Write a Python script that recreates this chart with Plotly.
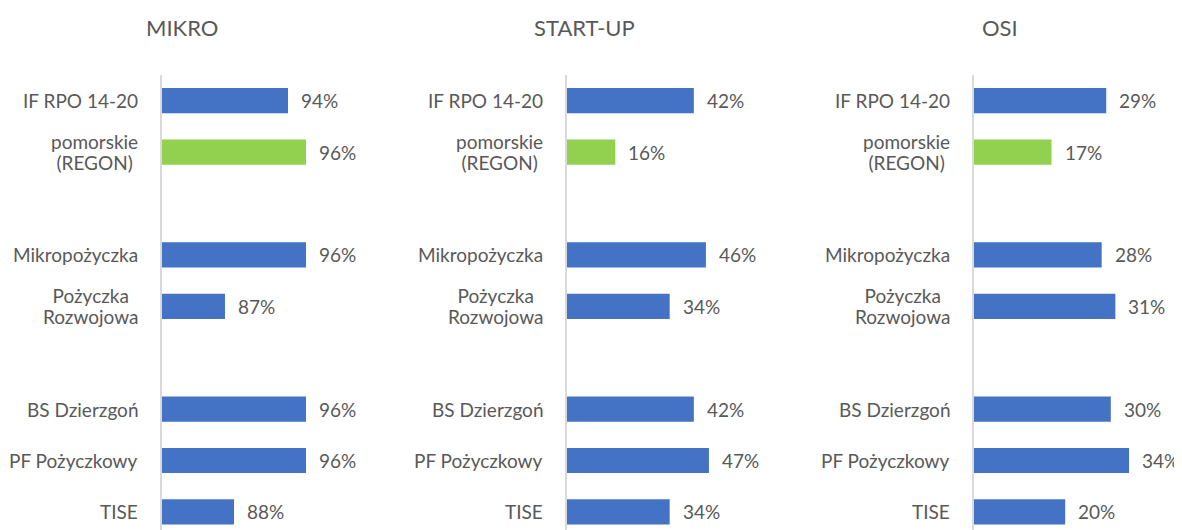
import plotly.graph_objects as go

# ---- data ----
panels = ["MIKRO", "START-UP", "OSI"]
categories = ["IF RPO 14-20", "pomorskie<br>(REGON)", "Mikropożyczka",
              "Pożyczka<br>Rozwojowa", "BS Dzierzgoń", "PF Pożyczkowy", "TISE"]
groups = [0, 0, 1, 1, 2, 2, 2]
mikro = [94, 96, 96, 87, 96, 96, 88]
startup = [42, 16, 46, 34, 42, 47, 34]
osi = [29, 17, 28, 31, 30, 34, 20]
values = [mikro, startup, osi]
axis_ranges = [[80, 100], [0, 50], [0, 35]]

# ---- style ----
BLUE = "#4472C4"
GREEN = "#92D050"
TEXT = "#595959"
FONT = "Lato"
W, H = 1182, 522
OFF = 8  # page body margin
colors = [GREEN if "REGON" in c else BLUE for c in categories]
rows = [i + g for i, g in enumerate(groups)]
px_dom = [[162, 342], [567, 718], [974, 1133.6]]
domains = [[(a - OFF) / W, (b - OFF) / W] for a, b in px_dom]
title_x = [(182 - OFF) / W, (584 - OFF) / W, (1000 - OFF) / W]
TOP = 75 - OFF
PLOT_H = H - TOP
ROW_PX = 51.4
y_bottom = -0.5 + PLOT_H / ROW_PX


def styled(label, size):
    return "<br>".join(f"<span style='font-size:{size}px'>{part}</span>"
                       for part in label.split("<br>"))


fig = go.Figure()
annotations = []
for p, name in enumerate(panels):
    sfx = "" if p == 0 else str(p + 1)
    lo = axis_ranges[p][0]
    fig.add_trace(go.Bar(
        x=[v - lo for v in values[p]], y=rows, orientation="h", base=lo,
        marker=dict(color=colors, line=dict(width=0)),
        width=0.49,
        xaxis="x" + sfx, yaxis="y" + sfx, showlegend=False,
        hoverinfo="skip",
    ))
    fig.layout["xaxis" + sfx] = dict(
        domain=domains[p], range=axis_ranges[p], visible=False,
        anchor="y" + sfx, fixedrange=True)
    fig.layout["yaxis" + sfx] = dict(
        domain=[0, 1], range=[y_bottom, -0.5], anchor="x" + sfx,
        showticklabels=False, showgrid=False, zeroline=False,
        showline=True, linecolor="#D9D9D9", linewidth=1.5, ticks="")
    for r, c, v in zip(rows, categories, values[p]):
        annotations.append(dict(
            xref="x" + sfx + " domain", x=0, yref="y" + sfx, y=r,
            text=styled(c, 19), showarrow=False, xanchor="right",
            yanchor="middle", align="center", xshift=-22,
            font=dict(family=FONT, size=16, color=TEXT)))
        annotations.append(dict(
            xref="x" + sfx, x=v, yref="y" + sfx, y=r,
            text=f"{v}%", showarrow=False, xanchor="left", yanchor="middle",
            xshift=11, font=dict(family=FONT, size=19, color=TEXT)))
    annotations.append(dict(
        xref="paper", x=title_x[p], yref="paper",
        y=1 + (TOP - (28 - OFF)) / PLOT_H,
        text=name, showarrow=False, xanchor="center", yanchor="middle",
        font=dict(family=FONT, size=22, color=TEXT)))

fig.update_layout(
    width=W, height=H,
    margin=dict(l=0, r=0, t=TOP, b=0),
    paper_bgcolor="white", plot_bgcolor="white",
    annotations=annotations,
    font=dict(family=FONT, color=TEXT),
)
fig.write_html("out.html")
